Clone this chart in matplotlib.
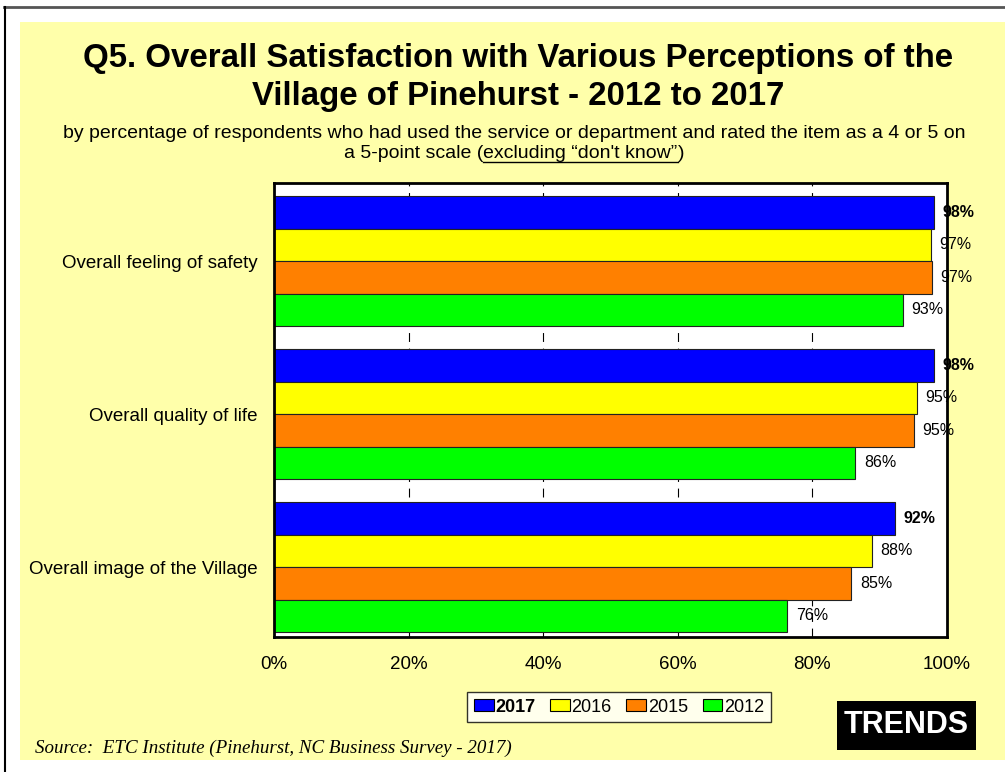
import numpy as np
import matplotlib.pyplot as plt
from matplotlib.patches import Rectangle, Patch
from matplotlib.lines import Line2D

# Data
categories = ["Overall feeling of safety", "Overall quality of life",
              "Overall image of the Village"]
years = ["2017", "2016", "2015", "2012"]
v2017 = [98.1, 98.1, 92.3]
v2016 = [97.6, 95.6, 88.8]
v2015 = [97.8, 95.1, 85.8]
v2012 = [93.4, 86.4, 76.3]
colors = ["#0000FF", "#FFFF00", "#FF8000", "#00FF00"]
xticks = [0, 20, 40, 60, 80, 100]

W, H = 1005, 772
fig = plt.figure(figsize=(W / 100, H / 100), dpi=100)
fig.patch.set_facecolor("white")
plt.rcParams['font.family'] = ['Liberation Sans', 'DejaVu Sans']

# page border + yellow panel
fig.add_artist(Line2D([4 / W, 1], [1 - 7 / H] * 2, color="#555555", lw=2))
fig.add_artist(Line2D([4.5 / W] * 2, [0, 1 - 7 / H], color="black", lw=1.5))
fig.add_artist(Rectangle((20 / W, 1 - 760 / H), 985 / W, 738 / H,
                         facecolor="#FFFFAA", edgecolor="none", zorder=0))

fig.text(518 / W, 1 - 58 / H, "Q5. Overall Satisfaction with Various Perceptions of the",
         ha="center", va="center", fontsize=23.8, fontweight="bold")
fig.text(518 / W, 1 - 97 / H, "Village of Pinehurst - 2012 to 2017",
         ha="center", va="center", fontsize=23.8, fontweight="bold")
fig.text(514 / W, 1 - 133 / H,
         "by percentage of respondents who had used the service or department and rated the item as a 4 or 5 on",
         ha="center", va="center", fontsize=14)

# second subtitle line, with underlined part
renderer = fig.canvas.get_renderer()
parts = ["a 5-point scale (", "excluding \u201cdon't know\u201d", ")"]
texts = [fig.text(0, 1 - 153 / H, p, ha="left", va="center", fontsize=14) for p in parts]
widths = [t.get_window_extent(renderer).width for t in texts]
x0 = 514 - sum(widths) / 2
for t, w in zip(texts, widths):
    t.set_x(x0 / W)
    if t is texts[1]:
        fig.add_artist(Line2D([x0 / W, (x0 + w) / W], [1 - 162 / H] * 2,
                              color="black", lw=1))
    x0 += w

ax = fig.add_axes([274 / W, 1 - 637 / H, 673 / W, 454 / H])
ax.set_facecolor("white")

series = [v2017, v2016, v2015, v2012]
y = np.arange(len(categories))
h = 0.2125
offs = [-1.5 * h, -0.5 * h, 0.5 * h, 1.5 * h]
for i, vals in enumerate(series):
    bars = ax.barh(y + offs[i], vals, height=h, color=colors[i],
                   edgecolor="#222222", linewidth=0.8, zorder=2)
    for b, v in zip(bars, vals):
        ax.annotate(f"{int(v)}%", (v, b.get_y() + h / 2), xytext=(6, 0),
                    textcoords="offset points", ha="left", va="center",
                    fontsize=11.5, fontweight="bold" if i == 0 else "normal",
                    zorder=5, annotation_clip=False)

ax.set_xlim(0, 100)
ax.set_ylim(2.457, -0.51)
for xv in xticks[1:-1]:
    ax.axvline(xv, color="black", lw=0.8, ls=(0, (8, 6)), zorder=1)
ax.set_xticks(xticks)
ax.set_xticklabels([f"{t}%" for t in xticks], fontsize=13.5)
ax.tick_params(axis="x", length=0, pad=14)
ax.set_yticks(y)
ax.set_yticklabels(categories, fontsize=13.5)
ax.tick_params(axis="y", length=0, pad=12)
for s in ax.spines.values():
    s.set_linewidth(2)
    s.set_color("black")
    s.set_zorder(4)

handles = [Patch(facecolor=c, edgecolor="black", linewidth=0.8) for c in colors]
leg = fig.legend(handles, years, loc="center", bbox_to_anchor=(619 / W, 1 - 707 / H),
                 ncol=4, fontsize=13, frameon=True, fancybox=False,
                 handlelength=1.1, handleheight=0.6, handletextpad=0.1,
                 columnspacing=0.8, borderpad=0.35, borderaxespad=0)
leg.get_frame().set_edgecolor("black")
leg.get_frame().set_linewidth(1)
leg.get_texts()[0].set_fontweight("bold")

fig.add_artist(Rectangle((837 / W, 1 - 750 / H), 139 / W, 49 / H,
                         facecolor="black", edgecolor="none"))
fig.text(906 / W, 1 - 725 / H, "TRENDS", ha="center", va="center",
         color="white", fontsize=22, fontweight="bold")

fig.text(35 / W, 1 - 748 / H, "Source:  ETC Institute (Pinehurst, NC Business Survey - 2017)",
         ha="left", va="center", fontsize=13.7, style="italic",
         family=["Liberation Serif", "DejaVu Serif"])

fig.savefig("out.png", dpi=100, facecolor=fig.get_facecolor())
